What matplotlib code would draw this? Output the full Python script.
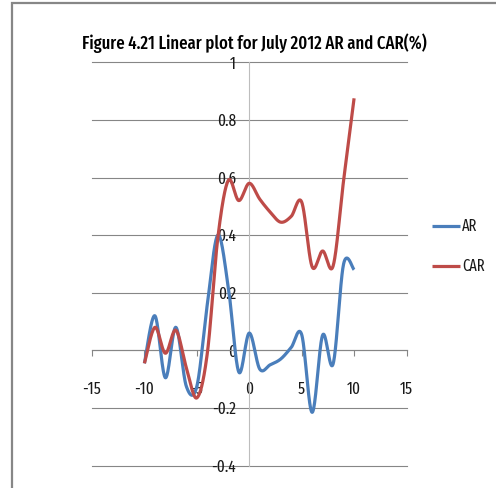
import numpy as np
import matplotlib
matplotlib.use("Agg")
import matplotlib.pyplot as plt
from matplotlib.patches import Rectangle
from matplotlib import font_manager as fm
from matplotlib.textpath import TextPath
from matplotlib.font_manager import FontProperties

# Event window (days) and daily abnormal / cumulative abnormal returns (%)
days = list(range(-10, 11))
ar = [-0.045, 0.12, -0.095, 0.08, -0.125, -0.125, 0.16, 0.40, 0.22, -0.075, 0.06,
      -0.065, -0.05, -0.03, 0.01, 0.055, -0.215, 0.053, -0.047, 0.30, 0.28]
car = [-0.045, 0.08, -0.01, 0.07, -0.06, -0.165, -0.01, 0.39, 0.59, 0.52, 0.58,
       0.525, 0.48, 0.445, 0.465, 0.515, 0.29, 0.345, 0.293, 0.59, 0.875]

x_ticks = [-15, -10, -5, 0, 5, 10, 15]
y_ticks = [-0.4, -0.2, 0, 0.2, 0.4, 0.6, 0.8, 1]
y_labels = ["-0.4", "-0.2", "0", "0.2", "0.4", "0.6", "0.8", "1"]

title = "Figure 4.21 Linear plot for July 2012 AR and CAR(%)"
series_names = ["AR", "CAR"]
colors = ["#4A7EBB", "#BE4B48"]

# pick a narrow sans face
installed = {f.name for f in fm.fontManager.ttflist}
preferred = ["Fira Sans Extra Condensed", "PT Sans Narrow", "Open Sans Condensed",
             "Roboto Condensed", "Fira Sans Condensed", "Archivo Narrow",
             "Asap Condensed", "Barlow Semi Condensed", "DejaVu Sans"]
face = next(f for f in preferred if f in installed)
FONT = [face, "DejaVu Sans"]
plt.rcParams["font.family"] = FONT

DPI = 100


def fit_size(text, width_px, weight="normal"):
    """Font size (pt) at which `text` spans width_px pixels."""
    prop = FontProperties(family=FONT, weight=weight)
    w = TextPath((0, 0), text, size=10, prop=prop).get_extents().width
    return 10 * width_px / (w * DPI / 72)


title_weight = "medium"
title_size = fit_size(title, 342, title_weight)
tick_size = fit_size("0.8", 17.7)
legend_size = fit_size("CAR", 21.7)


def smooth(xs, ys, n=40):
    """Smoothed line through every point (Bezier segments, Catmull-Rom tangents)."""
    p = np.column_stack([xs, ys]).astype(float)
    ext = np.vstack([p[0], p, p[-1]])
    out = []
    t = np.linspace(0, 1, n)[:, None]
    for i in range(len(p) - 1):
        p0, p1, p2, p3 = ext[i], ext[i + 1], ext[i + 2], ext[i + 3]
        c1 = p1 + (p2 - p0) / 6.0
        c2 = p2 - (p3 - p1) / 6.0
        seg = ((1 - t) ** 3) * p1 + 3 * ((1 - t) ** 2) * t * c1 + 3 * (1 - t) * t ** 2 * c2 + t ** 3 * p2
        out.append(seg if i == 0 else seg[1:])
    s = np.vstack(out)
    return s[:, 0], s[:, 1]


W, H = 496, 488
fig = plt.figure(figsize=(W / DPI, H / DPI), dpi=DPI)

# chart area border
fig.patches.append(Rectangle((12 / W, -0.1), 1.2, 1 - 3 / H + 0.1,
                             transform=fig.transFigure, fill=False,
                             edgecolor="#878787", linewidth=1.6, zorder=0))

left, right = 92 / W, 406.5 / W
top, bottom = 1 - 62.3 / H, 1 - 465.6 / H
ax = fig.add_axes([left, bottom, right - left, top - bottom])
ax.set_facecolor("none")

ax.set_xlim(-15, 15)
ax.set_ylim(-0.4, 1.0)

grid_color = "#868686"
for yv in y_ticks:
    ax.axhline(yv, color=grid_color, lw=0.8, zorder=1, clip_on=False)

for spine in ("top", "right"):
    ax.spines[spine].set_visible(False)
ax.spines["bottom"].set_position(("data", 0))
ax.spines["bottom"].set_color(grid_color)
ax.spines["bottom"].set_linewidth(0.8)
ax.spines["left"].set_position(("data", 0))
ax.spines["left"].set_color("#BDBDBD")
ax.spines["left"].set_linewidth(0.8)

ax.set_xticks(x_ticks)
ax.set_xticklabels([str(v) for v in x_ticks])
ax.set_yticks(y_ticks)
ax.set_yticklabels(y_labels)
ax.tick_params(axis="x", direction="out", length=4, width=0.8, color=grid_color,
               pad=18, labelsize=tick_size, labelcolor="#1a1a1a")
ax.tick_params(axis="y", length=0, pad=9.5, labelsize=tick_size, labelcolor="#1a1a1a")

for vals, name, c in zip([ar, car], series_names, colors):
    sx, sy = smooth(days, vals)
    ax.plot(sx, sy, color=c, lw=2.3, solid_capstyle="butt", zorder=3,
            clip_on=False, label=name)

fig.text(254 / W, 1 - 43 / H, title, ha="center", va="center",
         fontsize=title_size, fontweight=title_weight, color="#000000")

# legend
for i, (name, c) in enumerate(zip(series_names, colors)):
    yl = 1 - (226 + 40 * i) / H
    fig.add_artist(plt.Line2D([432 / W, 460 / W], [yl, yl], transform=fig.transFigure,
                              color=c, lw=2.3, solid_capstyle="butt"))
    fig.text(462 / W, yl, name, ha="left", va="center", fontsize=legend_size, color="#1a1a1a")

fig.savefig("out.png", dpi=DPI)
